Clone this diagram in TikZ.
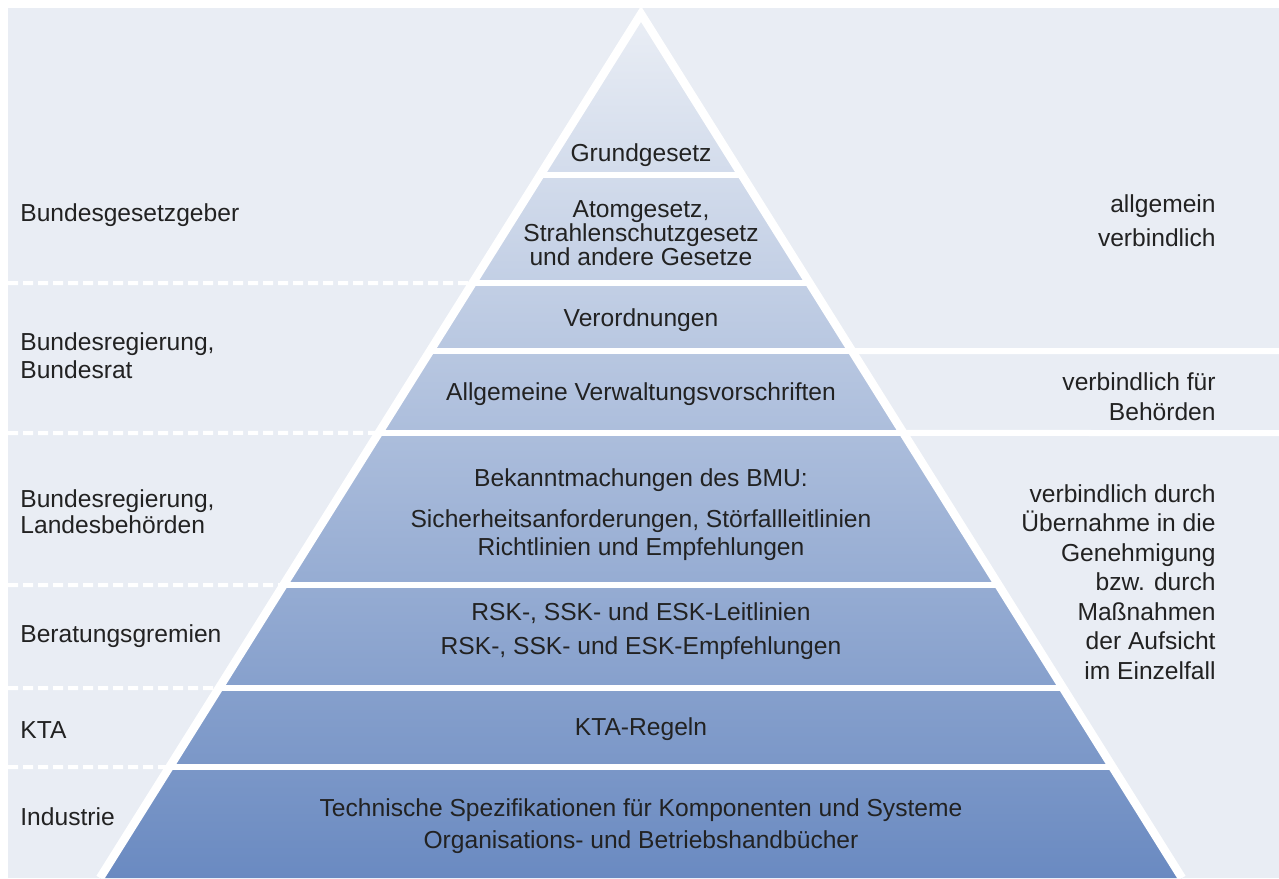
\documentclass[tikz,border=0pt]{standalone}
\usepackage{fontspec}
\setmainfont{Liberation Sans}
\usepackage{xcolor}
\usepackage{tikz}
\usetikzlibrary{calc}
\definecolor{PanelGrau}{RGB}{233,237,244}
\definecolor{SpitzeHell}{RGB}{234,238,245}
\definecolor{MitteBlau}{RGB}{168,186,216}
\definecolor{SockelBlau}{RGB}{106,138,193}
\definecolor{TextGrau}{RGB}{34,34,34}

\begin{document}
\begin{tikzpicture}[x=0.5pt,y=-0.5pt,
  zeile/.style={font=\fontsize{12.3}{#1}\selectfont},
  schicht/.style={align=center,inner sep=0pt,text=TextGrau,zeile=12},
  links/.style={align=left,anchor=west,inner sep=0pt,text=TextGrau,zeile=14},
  rechts/.style={align=right,anchor=east,inner sep=0pt,text=TextGrau,zeile=15},
  fuge/.style={white,line width=3pt},
  strich/.style={white,line width=2pt,dash pattern=on 5pt off 2.5pt}]
  % page and panel
  \fill[white] (0,0) rectangle (1279,878);
  \fill[PanelGrau] (8,8) rectangle (1279,878);
  \useasboundingbox (0,0) rectangle (1279,878);
  % pyramid
  \coordinate (apex) at (641,14);
  \coordinate (bl) at (100,878);
  \coordinate (br) at (1182,878);
  \shade[top color=SpitzeHell,middle color=MitteBlau,bottom color=SockelBlau] (apex)--(bl)--(br)--cycle;
  \foreach \y in {175,283,351,433,585,688,767}
    \draw[fuge] ($(apex)!{(\y-14)/864}!(bl)$)--($(apex)!{(\y-14)/864}!(br)$);
  \foreach \y in {351,433}
    \draw[fuge] ($(apex)!{(\y-14)/864}!(br)$)--(1279,\y);
  \foreach \y in {283,433,585,688,767}
    \draw[strich] (8,\y)--($(apex)!{(\y-14)/864}!(bl)$);
  \draw[white,line width=4.2pt] (bl)--(apex)--(br);
  % layers
  \node[schicht] (grund) at (641,155) {Grundgesetz};
  \node[schicht] (atom) at (641,233) {Atomgesetz,\\Strahlenschutzgesetz\\und andere Gesetze};
  \node[schicht] (vo) at (641,320) {Verordnungen};
  \node[schicht] (avv) at (641,394) {Allgemeine Verwaltungsvorschriften};
  \node[schicht] (bmu) at (641,480) {Bekanntmachungen des BMU:};
  \node[schicht,zeile=14] (sich) at (641,535) {Sicherheitsanforderungen, Störfallleitlinien\\Richtlinien und Empfehlungen};
  \node[schicht,zeile=17] (rsk) at (641,631) {RSK-, SSK- und ESK-Leitlinien\\RSK-, SSK- und ESK-Empfehlungen};
  \node[schicht] (kta) at (641,729) {KTA-Regeln};
  \node[schicht,zeile=16] (tech) at (641,826) {Technische Spezifikationen für Komponenten und Systeme\\Organisations- und Betriebshandbücher};
  % issuers
  \node[links] (bgg) at (20,215) {Bundesgesetzgeber};
  \node[links] (breg) at (20,356) {Bundesregierung,\\Bundesrat};
  \node[links,zeile=13] (blb) at (20,512) {Bundesregierung,\\Landesbehörden};
  \node[links] (berat) at (20,636) {Beratungsgremien};
  \node[links] (ktal) at (20,730) {KTA};
  \node[links] (ind) at (20,817) {Industrie};
  % bindingness
  \node[rechts,zeile=17] (allg) at (1216,221) {allgemein\\verbindlich};
  \node[rechts] (behoerd) at (1216,397) {verbindlich für\\Behörden};
  \node[rechts,zeile=14.75] (einzel) at (1216,582) {verbindlich durch\\Übernahme in die\\Genehmigung\\bzw. durch\\Maßnahmen\\der Aufsicht\\im Einzelfall};
\end{tikzpicture}
\end{document}
